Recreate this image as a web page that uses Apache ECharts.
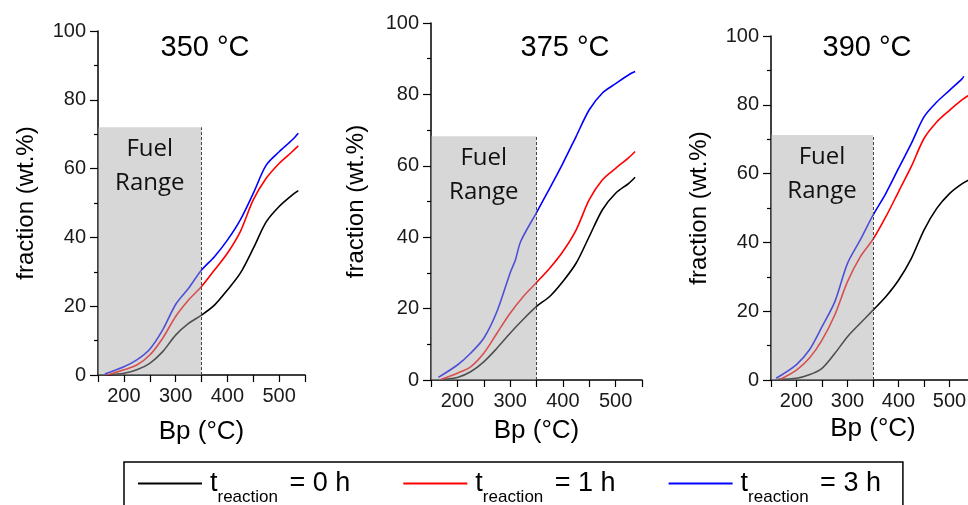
<!DOCTYPE html>
<html>
<head>
<meta charset="utf-8">
<script src="https://cdn.jsdelivr.net/npm/echarts@6/dist/echarts.min.js"></script>
<style>html,body{margin:0;padding:0;background:#fff}#c{width:968px;height:505px}</style>
</head>
<body>
<div id="c"></div>
<script>
// ---------- data ----------
const panelTitles = ['350 °C', '375 °C', '390 °C'];
const reactionTimes = ['0 h', '1 h', '3 h'];
const seriesColors = ['#000000', '#ff0000', '#0000ff'];
const fuelRangeBp = [150, 350];
const fuelRangeTop = [72, 68.3, 71.2];
const fuelRangeText = 'Fuel\nRange';

// 350 °C : [Bp (°C), fraction (wt.%)]
const t350_0h = [[168,0],[200,0.5],[225,1.5],[250,3.4],[275,6.8],[300,11.6],[325,15],[350,17.4],[375,20.3],[400,24.7],[425,29.6],[450,36.8],[475,44.5],[500,49],[525,52.3],[537,53.6]];
const t350_1h = [[168,0],[200,1.5],[225,2.9],[250,5.8],[275,10.7],[300,17],[325,21.8],[350,25.7],[375,30.5],[400,35.4],[425,41.7],[450,50.9],[475,57.2],[500,61.5],[525,64.9],[537,66.6]];
const t350_3h = [[163,0.3],[200,2.4],[225,4.4],[250,7.5],[275,13.1],[300,20.5],[325,25.2],[350,30.5],[375,34.4],[400,39.2],[425,45.1],[450,52.8],[475,61],[500,64.9],[525,68.3],[537,70.3]];

// 375 °C
const t375_0h = [[172,0.2],[200,0.7],[225,2.3],[250,5.1],[275,8.9],[300,13.1],[325,17],[350,20.6],[375,23.4],[400,27.6],[425,32.7],[450,40.2],[475,47.7],[500,52.3],[525,55.1],[537,56.8]];
const t375_1h = [[169,0.2],[200,1.9],[225,3.7],[250,7.5],[275,13.1],[300,18.7],[325,23.4],[350,27.3],[375,31.3],[400,36],[425,42],[450,50.5],[475,56.1],[500,59.3],[525,62.3],[537,64]];
const t375_3h = [[164,0.75],[200,4.2],[225,7.5],[250,11.7],[275,19.2],[300,30],[310,33.6],[320,38.8],[350,46.9],[375,53.7],[400,60.7],[425,68.2],[450,75.7],[475,80.4],[500,83],[525,85.5],[537,86.4]];

// 390 °C
const t390_0h = [[164,0.2],[200,0.5],[225,1.5],[250,3.4],[275,7.7],[300,12.6],[325,16.5],[350,20.3],[375,24.2],[400,29],[425,35.3],[450,43.6],[475,49.9],[500,54.2],[525,57.1],[540,58.3]];
const t390_1h = [[168,0.2],[200,2.9],[225,6.3],[250,11.6],[275,18.9],[300,28.6],[325,35.8],[350,40.9],[375,47.4],[400,54.7],[425,62],[450,70.2],[475,75],[500,78.4],[525,81.5],[540,83]];
const t390_3h = [[160,0.5],[200,4.5],[225,8.7],[250,15.5],[275,22.7],[300,33.9],[325,40.7],[350,47.9],[375,54.2],[400,61.5],[425,68.7],[450,76.5],[475,80.8],[500,84.2],[525,87.6],[528,88.3]];

const panelData = [
  [t350_0h, t350_1h, t350_3h],
  [t375_0h, t375_1h, t375_3h],
  [t390_0h, t390_1h, t390_3h]
];

// ---------- layout ----------
const grids = [
  {left: 98,  top: 31, width: 207, height: 344},
  {left: 431, top: 23, width: 211, height: 357},
  {left: 771, top: 36, width: 204, height: 344}
];
const titleCenters = [[205, 33], [565, 33], [867, 33]];
const xNameGaps = [44, 38, 36];
const yNameGaps = [60, 63, 60];

const sansFont = '"Liberation Sans", Arial, sans-serif';
const legendNames = reactionTimes.map(t => 't_reaction = ' + t);

const option = {
  animation: false,
  backgroundColor: '#ffffff',
  title: panelTitles.map((t, i) => ({
    text: t,
    left: titleCenters[i][0],
    top: titleCenters[i][1],
    textAlign: 'center',
    padding: 0,
    textStyle: {fontFamily: sansFont, fontSize: 29, fontWeight: 'normal', color: '#000'}
  })),
  grid: grids.map(g => Object.assign({containLabel: false, outerBoundsMode: 'none'}, g)),
  legend: {
    left: 124,
    top: 462,
    orient: 'horizontal',
    data: legendNames,
    selectedMode: false,
    icon: 'rect',
    itemWidth: 64,
    itemHeight: 2,
    itemGap: 53,
    borderColor: '#000',
    borderWidth: 1.5,
    padding: [8, 22, 14, 14],
    formatter: name => '{t|t}{s|reaction}{v|= ' + name.split('= ')[1] + '}',
    textStyle: {
      color: '#000',
      fontFamily: sansFont,
      rich: {
        t: {fontSize: 27, fontFamily: sansFont, color: '#000', padding: [0, 0, 0, 3]},
        s: {fontSize: 17, fontFamily: sansFont, color: '#000', padding: [27, 0, 0, 0], width: 72},
        v: {fontSize: 27, fontFamily: sansFont, color: '#000', width: 72}
      }
    }
  },
  xAxis: grids.map((g, i) => ({
    type: 'value',
    gridIndex: i,
    min: 150,
    max: 550,
    interval: 50,
    name: 'Bp (°C)',
    nameLocation: 'middle',
    nameGap: xNameGaps[i],
    nameTextStyle: {fontFamily: sansFont, fontSize: 26, color: '#000'},
    axisLine: {show: true, onZero: false, lineStyle: {color: '#000', width: 1.5}},
    axisTick: {show: true, inside: false, length: 7, lineStyle: {color: '#000', width: 1.2}},
    axisLabel: {
      fontFamily: sansFont, fontSize: 20, color: '#1a1a1a', margin: 11,
      formatter: v => (v % 100 === 0 ? String(v) : '')
    },
    splitLine: {show: false}
  })),
  yAxis: grids.map((g, i) => ({
    type: 'value',
    gridIndex: i,
    min: 0,
    max: 100,
    interval: 20,
    name: 'fraction (wt.%)',
    nameLocation: 'middle',
    nameGap: yNameGaps[i],
    nameTextStyle: {fontFamily: sansFont, fontSize: 24, color: '#000'},
    axisLine: {show: true, onZero: false, lineStyle: {color: '#000', width: 1.5}},
    axisTick: {show: true, inside: false, length: 8, lineStyle: {color: '#000', width: 1.2}},
    minorTick: {show: true, splitNumber: 2, length: 4, lineStyle: {color: '#000', width: 1.2}},
    axisLabel: {fontFamily: sansFont, fontSize: 20, color: '#1a1a1a', margin: 12},
    splitLine: {show: false},
    minorSplitLine: {show: false}
  })),
  series: []
};

panelData.forEach((curves, i) => {
  curves.forEach((pts, k) => {
    option.series.push({
      type: 'line',
      name: legendNames[k],
      xAxisIndex: i,
      yAxisIndex: i,
      data: pts,
      showSymbol: false,
      symbol: 'none',
      smooth: 0.3,
      z: 2,
      color: seriesColors[k],
      lineStyle: {color: seriesColors[k], width: 1.6}
    });
  });
  // Fuel range shading (drawn over the curves) + dashed boundary
  option.series.push({
    type: 'line',
    name: 'fuel' + i,
    xAxisIndex: i,
    yAxisIndex: i,
    data: [],
    z: 10,
    silent: true,
    markArea: {
      silent: true,
      z: 10,
      itemStyle: {color: 'rgba(170,170,170,0.47)'},
      label: {
        show: true,
        position: 'insideTop',
        distance: 5,
        formatter: fuelRangeText,
        fontFamily: '"Open Sans", sans-serif',
        fontSize: 24,
        lineHeight: 34,
        color: '#111',
        align: 'center'
      },
      data: [[{coord: [fuelRangeBp[0], 0]}, {coord: [fuelRangeBp[1], fuelRangeTop[i]]}]]
    },
    markLine: {
      silent: true,
      z: 11,
      symbol: ['none', 'none'],
      label: {show: false},
      lineStyle: {color: '#444', width: 1, type: [3, 2]},
      data: [[{coord: [fuelRangeBp[1], 0]}, {coord: [fuelRangeBp[1], fuelRangeTop[i]]}]]
    }
  });
});

const chart = echarts.init(document.getElementById('c'), null, {renderer: 'canvas'});
chart.setOption(option);
</script>
</body>
</html>
